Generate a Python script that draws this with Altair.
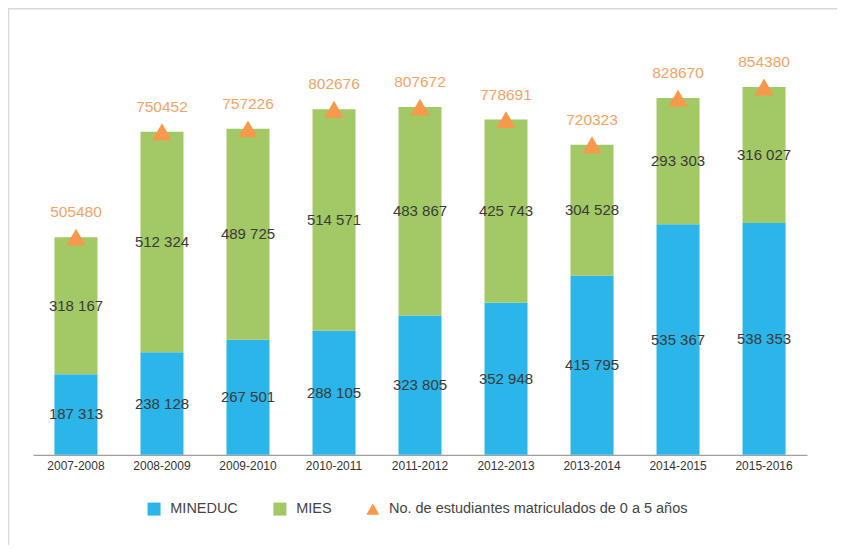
import altair as alt
import pandas as pd

years = ["2007-2008", "2008-2009", "2009-2010", "2010-2011", "2011-2012",
         "2012-2013", "2013-2014", "2014-2015", "2015-2016"]
mineduc = [187313, 238128, 267501, 288105, 323805, 352948, 415795, 535367, 538353]
mies = [318167, 512324, 489725, 514571, 483867, 425743, 304528, 293303, 316027]
totals = [505480, 750452, 757226, 802676, 807672, 778691, 720323, 828670, 854380]

series = ["MINEDUC", "MIES", "No. de estudiantes matriculados de 0 a 5 años"]
colors = ["#2BB5E8", "#A3C866", "#F7984A"]


def fmt(v):
    return f"{v:,}".replace(",", " ")


rows = []
for i, y in enumerate(years):
    rows.append({"year": y, "serie": series[0], "value": mineduc[i], "order": 0,
                 "y0": 0, "y1": mineduc[i], "mid": mineduc[i] / 2, "label": fmt(mineduc[i])})
    rows.append({"year": y, "serie": series[1], "value": mies[i], "order": 1,
                 "y0": mineduc[i], "y1": mineduc[i] + mies[i],
                 "mid": mineduc[i] + mies[i] / 2, "label": fmt(mies[i])})
bars_df = pd.DataFrame(rows)
tot_df = pd.DataFrame({"year": years, "total": totals, "serie": series[2],
                       "label": [str(t) for t in totals]})

xenc = alt.X("year:N", sort=years, title=None,
             scale=alt.Scale(paddingInner=0.5, paddingOuter=0.25),
             axis=alt.Axis(labelAngle=0, ticks=False, domainColor="#888888",
                           labelColor="#333333", labelFontSize=12, labelPadding=6,
                           labelFont="Liberation Sans"))
yscale = alt.Scale(domain=[0, 1000000])

legend_props = dict(title=None, orient="none", legendX=114, legendY=478,
                    direction="horizontal", symbolSize=169,
                    symbolStrokeWidth=0, columnPadding=34,
                    labelFontSize=14.5, labelColor="#444444",
                    labelFont="Liberation Sans", labelOffset=9,
                    labelLimit=0, padding=0)

color = alt.Color("serie:N", scale=alt.Scale(domain=series, range=colors),
                  legend=alt.Legend(**legend_props))
shape = alt.Shape("serie:N", scale=alt.Scale(domain=series,
                                              range=["square", "square", "triangle-up"]),
                  legend=alt.Legend(**legend_props))

bars = alt.Chart(bars_df).mark_bar().encode(
    x=xenc,
    y=alt.Y("y0:Q", scale=yscale, axis=None),
    y2="y1:Q",
    color=color,
)

seg_labels = alt.Chart(bars_df).mark_text(fontSize=15, color="#3a3a3a",
                                          font="Liberation Sans").encode(
    x=alt.X("year:N", sort=years),
    y=alt.Y("mid:Q", scale=yscale),
    text="label:N",
)

tri = alt.Chart(tot_df).mark_point(filled=True, size=380, opacity=1, dy=-1).encode(
    x=alt.X("year:N", sort=years),
    y=alt.Y("total:Q", scale=yscale),
    color=color,
    shape=shape,
)

tot_labels = alt.Chart(tot_df).mark_text(fontSize=15.5, color="#F2A465", dy=-25,
                                         font="Liberation Sans").encode(
    x=alt.X("year:N", sort=years),
    y=alt.Y("total:Q", scale=yscale),
    text="label:N",
)

# decorative frame (top and left edges), as in the reference
frame_top = alt.Chart(tot_df.head(1)).mark_rule(color="#d9d9d9", strokeWidth=1.5).encode(
    x=alt.value(-25), x2=alt.value(810), y=alt.value(-15.5))
frame_left = alt.Chart(tot_df.head(1)).mark_rule(color="#d9d9d9", strokeWidth=1.5).encode(
    x=alt.value(-24.5), y=alt.value(-16), y2=alt.value(530))

chart = alt.layer(frame_top, frame_left, bars, seg_labels, tri, tot_labels).properties(
    width=775, height=431,
    autosize=alt.AutoSizeParams(type="none"),
    padding={"left": 25, "top": 16, "right": 30, "bottom": 90},
).configure(background="white").configure_view(stroke=None)

chart.save("out.html", embed_options={"renderer": "svg", "actions": False})
